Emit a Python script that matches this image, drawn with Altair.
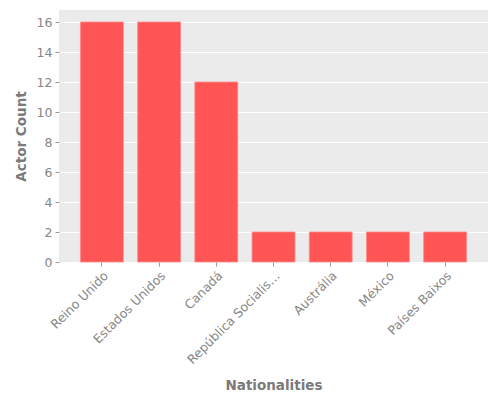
import altair as alt
import pandas as pd

nationalities = [
    "Reino Unido",
    "Estados Unidos",
    "Canadá",
    "República Socialista Federativa Soviética da Rússia",
    "Austrália",
    "México",
    "Países Baixos",
]
actor_counts = [16, 16, 12, 2, 2, 2, 2]
y_ticks = [0, 2, 4, 6, 8, 10, 12, 14, 16]

df = pd.DataFrame({"Nationalities": nationalities, "Actor Count": actor_counts})

label_grey = "#868686"
title_grey = "#7a7a7a"

chart = (
    alt.Chart(df)
    .mark_bar(color="#FF5555", stroke="#FF8C8C", strokeWidth=0.8)
    .encode(
        x=alt.X(
            "Nationalities:N",
            sort=nationalities,
            title="Nationalities",
            scale=alt.Scale(paddingInner=0.25, paddingOuter=0.375),
            axis=alt.Axis(
                labelAngle=-45,
                labelAlign="right",
                labelBaseline="top",
                labelLimit=126,
                labelPadding=3,
                titleY=123,
                titleBaseline="middle",
            ),
        ),
        y=alt.Y(
            "Actor Count:Q",
            title="Actor Count",
            scale=alt.Scale(domain=[0, 16.8], nice=False),
            axis=alt.Axis(values=y_ticks, grid=True, titleX=-38, titleBaseline="middle"),
        ),
    )
    .properties(
        width=429,
        height=252,
        autosize=alt.AutoSizeParams(type="none"),
        padding={"left": 51, "top": 2, "right": 4, "bottom": 130},
    )
    .configure_view(fill="#EBEBEB", strokeWidth=0)
    .configure_axis(
        labelFont="DejaVu Sans",
        titleFont="DejaVu Sans",
        labelFontSize=12.5,
        labelColor=label_grey,
        titleFontSize=13.5,
        titleFontWeight="bold",
        titleColor=title_grey,
        domain=False,
        tickColor="#999999",
        tickSize=4,
        labelPadding=3,
        gridColor="white",
        gridWidth=1,
    )
    .configure_axisX(grid=False)
)

chart.save("out.html", embed_options={"renderer": "svg", "actions": False})
